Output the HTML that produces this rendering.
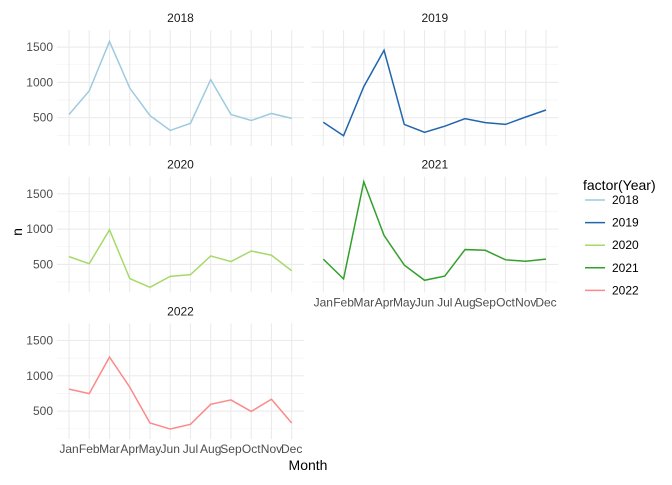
<!DOCTYPE html>
<html><head><meta charset="utf-8"><style>
body{margin:0;background:#fff;}
svg{font-family:"Liberation Sans",sans-serif;}
</style></head><body>
<svg id="c" width="672" height="480"></svg>
<script>
const months=["Jan","Feb","Mar","Apr","May","Jun","Jul","Aug","Sep","Oct","Nov","Dec"];
const years=["2018","2019","2020","2021","2022"];
const colors=["#9ecae1","#2166ac","#a6d96a","#33a02c","#fb8a8a"];
const v2018=[545,880,1580,920,530,320,420,1040,545,460,560,490];
const v2019=[435,245,940,1455,405,293,380,486,430,405,510,609];
const v2020=[610,510,990,300,175,330,355,620,540,690,630,410];
const v2021=[575,295,1670,910,490,275,335,710,700,565,545,575];
const v2022=[811,748,1265,840,332,246,313,596,658,495,668,332];
const yTicks=[500,1000,1500];
const series=[v2018,v2019,v2020,v2021,v2022];
const svg=document.getElementById('c');
const NS="http://www.w3.org/2000/svg";
function mk(t,a,p){const e=document.createElementNS(NS,t);for(const k in a)e.setAttribute(k,a[k]);(p||svg).appendChild(e);return e;}
const colOff=254.3,rowOff=146.7;
for(let i=0;i<5;i++){
  const r=Math.floor(i/2),c=i%2;
  const left=57+c*colOff,right=304+c*colOff,top=30+r*rowOff,bot=145.7+r*rowOff;
  const x=k=>69+c*colOff+k*(222.7/11);
  const y=v=>117.7+r*rowOff-(v-500)*(35.3/500);
  const g=mk('g',{});
  
  
  for(const v of [250,750,1250]){mk('line',{x1:left,x2:right,y1:y(v),y2:y(v),stroke:'#f0f0f0','stroke-width':0.6},g);}
  for(const v of yTicks){mk('line',{x1:left,x2:right,y1:y(v),y2:y(v),stroke:'#ebebeb','stroke-width':1.1},g);}
  for(let k=0;k<12;k++){mk('line',{x1:x(k),x2:x(k),y1:top,y2:bot,stroke:'#ebebeb','stroke-width':1.1},g);}
  const st=mk('text',{x:(left+right)/2,y:top-8,'text-anchor':'middle','font-size':12,fill:'#1a1a1a'},g);
  st.textContent=years[i];
  
  
  if(c===0){for(const v of yTicks){const t=mk('text',{x:left-4,y:y(v)+4,'text-anchor':'end','font-size':12,fill:'#4d4d4d'},g);t.textContent=v;
    
    }}
  if(i===3||i===4){for(let k=0;k<12;k++){const t=mk('text',{x:x(k),y:bot+14,'text-anchor':'middle','font-size':12,fill:'#4d4d4d'},g);t.textContent=months[k];
    
    }}
  const pl=mk('polyline',{points:series[i].map((v,k)=>x(k)+','+y(v)).join(' '),fill:'none',stroke:colors[i],'stroke-width':1.5},g);
  
  
}
const xt=mk('text',{x:308,y:470,'text-anchor':'middle','font-size':14,fill:'#000'});xt.textContent='Month';


const yt=mk('text',{x:18,y:236,'text-anchor':'middle','font-size':14,fill:'#000',transform:'rotate(-90 18 232)'});yt.textContent='n';


const lt=mk('text',{x:583,y:190,'font-size':14,fill:'#000'});lt.textContent='factor(Year)';


for(let i=0;i<5;i++){
  const yy=200+i*22.6;
  const g=mk('g',{});
  
  
  mk('line',{x1:585,x2:605,y1:yy,y2:yy,stroke:colors[i],'stroke-width':1.5},g);
  const t=mk('text',{x:612,y:yy+4,'font-size':12,fill:'#000'},g);t.textContent=years[i];
}
</script>
</body></html>
